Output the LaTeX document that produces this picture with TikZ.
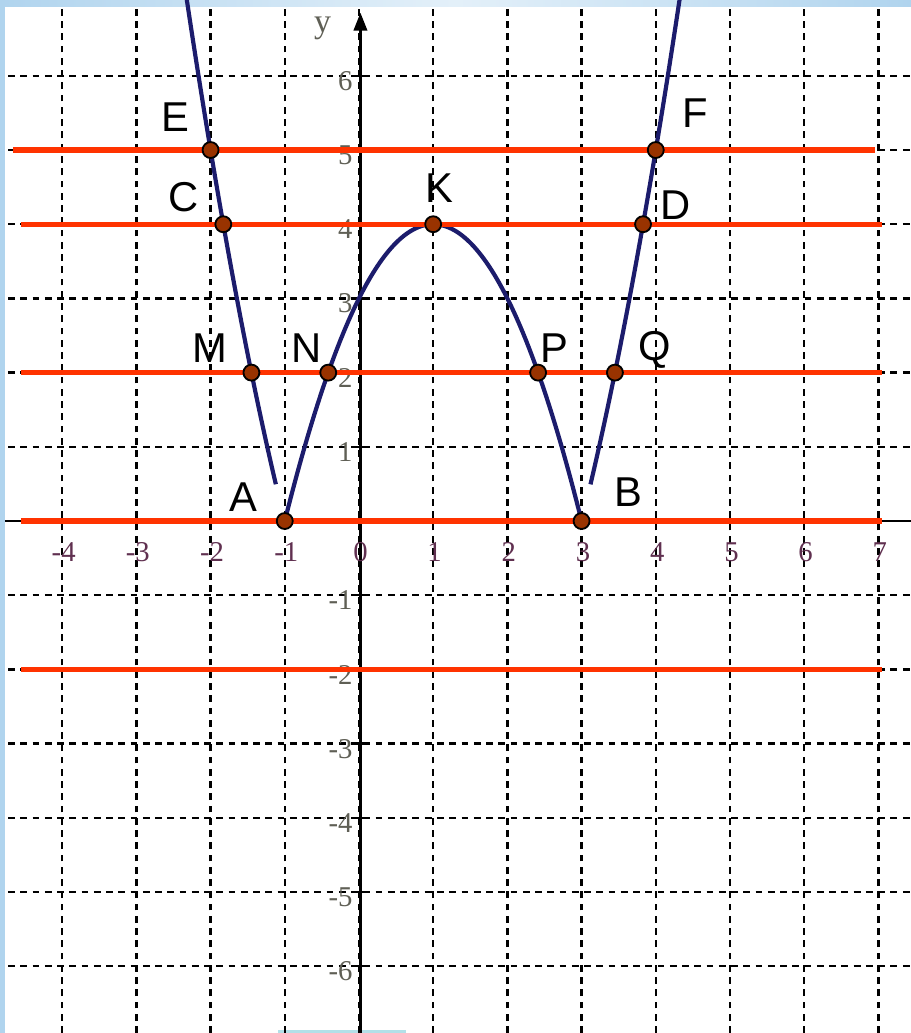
\documentclass[tikz,border=0pt]{standalone}
\usepackage{fontspec}
\setmainfont{Liberation Serif}
\newfontfamily\labfont{Liberation Sans}
\usetikzlibrary{arrows.meta}
\definecolor{redline}{RGB}{255,51,0}
\definecolor{curvec}{RGB}{28,28,108}
\definecolor{dotc}{RGB}{153,51,0}
\definecolor{xlab}{RGB}{96,48,80}
\definecolor{ylab}{RGB}{95,95,85}
\definecolor{framec}{RGB}{176,212,238}
\definecolor{cyanbox}{RGB}{178,224,232}
\begin{document}
\begin{tikzpicture}[x=1cm,y=1cm,
  gridline/.style={black, line width=0.9pt, dash pattern=on 2.6pt off 2.1pt},
  level/.style={redline, line width=2pt},
  graphline/.style={curvec, line width=1.6pt},
  pt/.style={circle, fill=dotc, draw=black, line width=0.7pt, minimum size=0.215cm, inner sep=0pt},
  ptlabel/.style={font=\labfont\fontsize{16}{16}\selectfont, inner sep=0pt},
  xtick/.style={font=\fontsize{11}{11}\selectfont, text=xlab, inner sep=0pt},
  ytick/.style={font=\fontsize{11}{11}\selectfont, text=ylab, anchor=east, inner sep=0pt}]
\useasboundingbox (-4.838,-6.900) rectangle (7.439,7.022);
\fill[white] (-4.838,-6.900) rectangle (7.439,7.022);
% frame pieces
\fill[framec] (-4.838,-6.900) rectangle (-4.771,7.022);
\shade[left color=framec, right color=framec, middle color=framec!35] (-4.838,6.928) rectangle (7.439,7.022);
\fill[cyanbox] (-1.09,-6.900) rectangle (0.633,-6.860);
% grid
\foreach \x in {-4,...,7} \draw[gridline] (\x,-6.9) -- (\x,6.928);
\foreach \y in {-6,...,6} \draw[gridline] (-4.73,\y) -- (7.439,\y);
% axes
\draw[black, line width=0.9pt] (-4.771,0) -- (7.439,0);
\draw[black, line width=1pt, -{Triangle[length=0.24cm,width=0.18cm]}] (0.02,-6.9) -- (0.02,6.85);
\foreach \y in {-6,...,6} \draw[black, line width=0.9pt] (-0.07,\y) -- (0.11,\y);
\node[font=\fontsize{13}{13}\selectfont, text=ylab, inner sep=0pt] (ylabel) at (-0.49,6.64) {y};
% tick labels
\foreach \x in {-4,-3,-2,-1,0,1,2,3,4,5,6,7}
  \node[xtick] (tx\x) at (\x+0.02,-0.42) {\x};
\foreach \y in {-6,-5,-4,-3,-2,-1,1,2,3,4,5,6}
  \node[ytick] (ty\y) at (-0.08,\y-0.07) {\y};
% graph of y = |x^2 - 2x - 3|
\begin{scope}
\clip (-4.838,-6.900) rectangle (7.439,7.022);
\draw[graphline] plot[domain=-2.36:-1.12, samples=50, smooth] (\x, {(\x)*(\x)-2*(\x)-3});
\draw[graphline] plot[domain=-1:3, samples=81, smooth] (\x, {-((\x)*(\x)-2*(\x)-3)});
\draw[graphline] plot[domain=3.12:4.42, samples=50, smooth] (\x, {(\x)*(\x)-2*(\x)-3});
\end{scope}
% red level lines
\coordinate (l5a) at (-4.66,5);  \coordinate (l5b) at (6.95,5);
\coordinate (l4a) at (-4.555,4); \coordinate (l4b) at (7.05,4);
\coordinate (l2a) at (-4.555,2); \coordinate (l2b) at (7.05,2);
\coordinate (l0a) at (-4.555,0); \coordinate (l0b) at (7.05,0);
\coordinate (lma) at (-4.555,-2); \coordinate (lmb) at (7.05,-2);
\draw[level] (l5a) -- (l5b);
\draw[level] (l4a) -- (l4b);
\draw[level] (l2a) -- (l2b);
\draw[level] (l0a) -- (l0b);
\draw[level] (lma) -- (lmb);
% points
\node[pt] (E) at (-2,5) {};
\node[pt] (F) at (4,5) {};
\node[pt] (C) at ({1-sqrt(8)},4) {};
\node[pt] (K) at (1,4) {};
\node[pt] (D) at ({1+sqrt(8)},4) {};
\node[pt] (M) at ({1-sqrt(6)},2) {};
\node[pt] (N) at ({1-sqrt(2)},2) {};
\node[pt] (P) at ({1+sqrt(2)},2) {};
\node[pt] (Q) at ({1+sqrt(6)},2) {};
\node[pt] (A) at (-1,0) {};
\node[pt] (B) at (3,0) {};
% letters
\node[ptlabel] (lE) at (-2.47,5.44) {E};
\node[ptlabel] (lC) at (-2.36,4.37) {C};
\node[ptlabel] (lK) at (1.09,4.49) {K};
\node[ptlabel] (lF) at (4.53,5.50) {F};
\node[ptlabel] (lD) at (4.27,4.26) {D};
\node[ptlabel] (lM) at (-2.01,2.33) {M};
\node[ptlabel] (lN) at (-0.70,2.33) {N};
\node[ptlabel] (lP) at (2.64,2.33) {P};
\node[ptlabel] (lQ) at (3.99,2.30) {Q};
\node[ptlabel] (lA) at (-1.56,0.32) {A};
\node[ptlabel] (lB) at (3.63,0.39) {B};
\end{tikzpicture}
\end{document}
